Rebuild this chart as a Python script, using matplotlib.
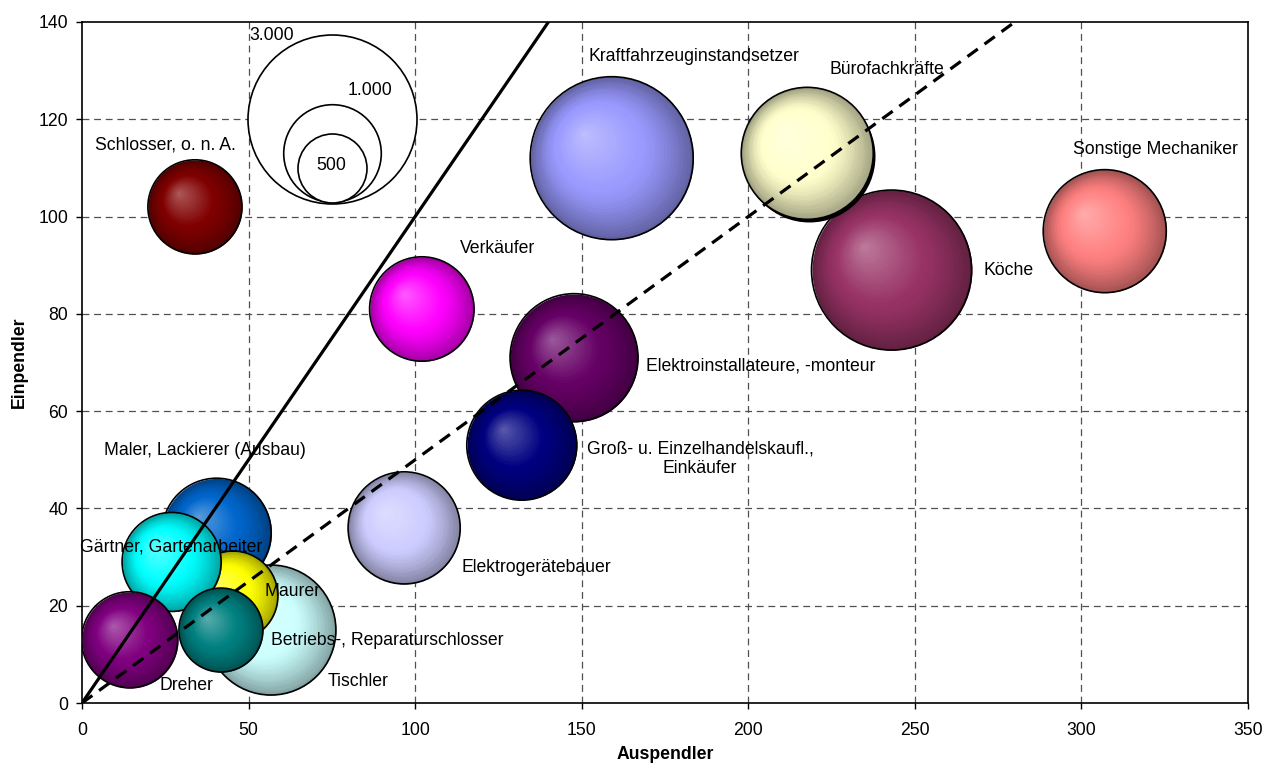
import numpy as np
import matplotlib
matplotlib.use("Agg")
import matplotlib.pyplot as plt
import matplotlib.colors as mcolors
from matplotlib.transforms import ScaledTranslation

# ---------------- data ----------------
names = ["Schlosser, o. n. A.", "Verkäufer", "Kraftfahrzeuginstandsetzer", "Köche",
         "Bürofachkräfte", "Sonstige Mechaniker", "Elektroinstallateure, -monteur",
         "Groß- u. Einzelhandelskaufl.,\nEinkäufer", "Elektrogerätebauer",
         "Maler, Lackierer (Ausbau)", "Tischler", "Maurer", "Gärtner, Gartenarbeiter",
         "Betriebs-, Reparaturschlosser", "Dreher"]
auspendler = [33.9, 102, 159, 243, 217.7, 307, 147.7, 132, 96.7, 40.4, 56.7, 45.3, 26.9, 41.7, 14.3]
einpendler = [102, 81, 112, 89, 113, 97, 71, 53, 36, 35, 15, 22, 29, 15, 13]
beschaeftigte = [930, 1145, 2790, 2690, 1830, 1590, 1720, 1270, 1320, 1250, 1775, 850, 1030, 740, 970]
colors = ["#800000", "#FF00FF", "#9999FF", "#993366", "#FFFFCC", "#FF8080", "#660066",
          "#000080", "#CCCCFF", "#0066CC", "#CCFFFF", "#FFFF00", "#00FFFF", "#008080", "#800080"]
label_x = [24.9, 124.6, 183.7, 241.7, 322.1, 278, 203.8, 185.5, 136.3, 37, 82.9, 63.1, 26.8, 91.7, 31.4]
label_y = [114.7, 93.5, 133, 130.3, 113.7, 89, 69.3, 50.2, 27.8, 52, 4.4, 22.9, 32.1, 12.8, 3.7]
label_names = ["Schlosser, o. n. A.", "Verkäufer", "Kraftfahrzeuginstandsetzer", "Bürofachkräfte",
               "Sonstige Mechaniker", "Köche", "Elektroinstallateure, -monteur",
               "Groß- u. Einzelhandelskaufl.,\nEinkäufer", "Elektrogerätebauer",
               "Maler, Lackierer (Ausbau)", "Tischler", "Maurer", "Gärtner, Gartenarbeiter",
               "Betriebs-, Reparaturschlosser", "Dreher"]

legend_values = [3000, 1000, 500]
legend_labels = ["3.000", "1.000", "500"]
legend_x = [75, 75, 75]
legend_y = [120, 113, 110]
legend_label_x = [57.0, 86.3, 74.8]
legend_label_y = [137.3, 126, 110.5]

line_slopes = [1.0, 0.5]
line_x = [0, 350]

xticks = [0, 50, 100, 150, 200, 250, 300, 350]
yticks = [0, 20, 40, 60, 80, 100, 120, 140]

# ---------------- style ----------------
plt.rcParams['font.family'] = ['Liberation Sans', 'DejaVu Sans']
FS = 12.7
DPI = 100
fig = plt.figure(figsize=(12.72, 7.67), dpi=DPI)
ax = fig.add_axes([82/1272, 1 - 703/767, (1248-82)/1272, (703-22)/767])
ax.set_xlim(0, 350)
ax.set_ylim(0, 140)

# bubble area scale: value 3000 -> radius 84.5 px
R_REF_PX = 84.5
def size_of(v):
    r_pt = R_REF_PX * np.sqrt(v / 3000.0) * 72.0 / DPI
    return (2 * r_pt) ** 2

for gx in xticks[1:-1]:
    ax.axvline(gx, color="#505050", lw=0.9, ls=(0, (5.5, 3.8)), zorder=1)
for gy in yticks[1:-1]:
    ax.axhline(gy, color="#505050", lw=0.9, ls=(0, (5.5, 3.8)), zorder=1)

def sphere(x, y, v, color, shadow=False):
    s = size_of(v)
    base = np.array(mcolors.to_rgb(color))
    light = base + 0.36 * (1 - base)
    dark = base * 0.64
    R_in = np.sqrt(s) / 2 / 72.0
    hx, hy = -0.35 * R_in, 0.30 * R_in
    if shadow:
        tr = ax.transData + ScaledTranslation(0.022, -0.022, fig.dpi_scale_trans)
        ax.scatter([x], [y], s=s, color="black", lw=0, transform=tr, zorder=3)
    N = 34
    for i in range(N):
        t = 1 - i / N
        if t > 0.55:
            c = base + (dark - base) * ((t - 0.55) / 0.45) ** 1.3
        else:
            c = light + (base - light) * (t / 0.55)
        c = np.clip(c, 0, 1)
        tr = ax.transData + ScaledTranslation((1 - t) * hx, (1 - t) * hy, fig.dpi_scale_trans)
        ax.scatter([x], [y], s=s * t * t, color=[c], lw=0, transform=tr, zorder=3)
    ax.scatter([x], [y], s=s, facecolor="none", edgecolor="black", lw=1.2, zorder=3)

for i in range(len(names)):
    sphere(auspendler[i], einpendler[i], beschaeftigte[i], colors[i],
           shadow=(names[i] == "Bürofachkräfte"))

# size legend
for lx, ly, lv in zip(legend_x, legend_y, legend_values):
    ax.scatter([lx], [ly], s=size_of(lv), facecolor="white", edgecolor="black", lw=1.2, zorder=3)
for tx, ty, tl in zip(legend_label_x, legend_label_y, legend_labels):
    ax.text(tx, ty, tl, ha="center", va="center", fontsize=FS, zorder=6)

# reference lines
ax.plot(line_x, [line_slopes[0] * v for v in line_x], color="black", lw=2.3, zorder=5)
ax.plot(line_x, [line_slopes[1] * v for v in line_x], color="black", lw=2.3,
        ls=(0, (4, 2.6)), zorder=5)

# labels
for tx, ty, tl in zip(label_x, label_y, label_names):
    ax.text(tx, ty, tl, ha="center", va="center", fontsize=FS, zorder=6,
            multialignment="center", linespacing=1.15)

ax.set_xticks(xticks)
ax.set_yticks(yticks)
ax.tick_params(direction="out", length=4, width=1, labelsize=FS, pad=6)
ax.tick_params(axis="x", pad=10)
for sp in ax.spines.values():
    sp.set_linewidth(1.2)
ax.set_xlabel("Auspendler", fontsize=FS, fontweight="bold", labelpad=5)
ax.set_ylabel("Einpendler", fontsize=FS, fontweight="bold", labelpad=7.5)

fig.savefig("out.png", dpi=DPI)
